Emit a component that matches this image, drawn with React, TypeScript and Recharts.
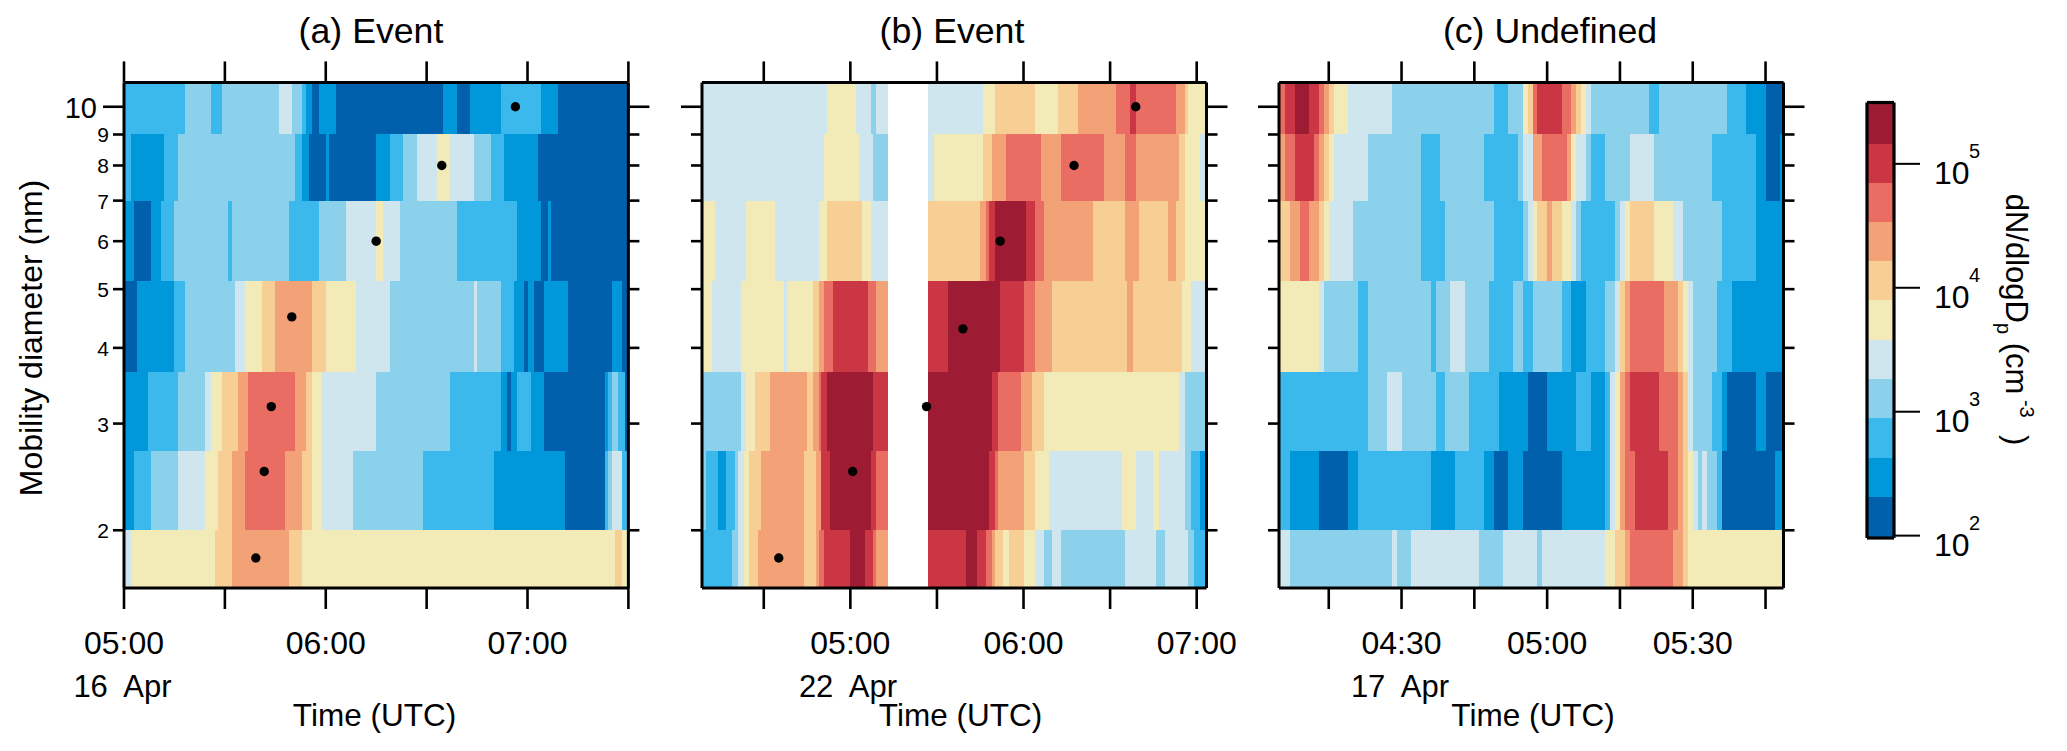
import React from "react";
import { ComposedChart, XAxis, YAxis, ReferenceArea, Scatter } from "recharts";

type Run = [number, number];

const palette = ["#0060ac", "#0098da", "#3bb8ec", "#8bd1eb", "#cfe6ee", "#f2eab7", "#f7cf94", "#f2a276", "#ea6d64", "#cb3644", "#9d1c34"];
const bandEdges = [1.606, 2, 2.7, 3.65, 5.15, 7, 9, 10.97];
const yTicks = [2, 3, 4, 5, 6, 7, 8, 9, 10];

// Runs are [start minute of day, colour level]; level -1 means no data.
const aBand0: Run[] = [[300,4],[302,5],[327,6],[332,7],[349,6],[353,5],[446,6],[448,5]];
const aBand1: Run[] = [[300,1],[303,2],[308,3],[316,4],[324,5],[328,6],[332,7],[336,8],[348,7],[353,6],[356,5],[359,4],[368,3],[389,2],[410,1],[431,0],[443,2],[444,3],[445,4],[448,2]];
const aBand2: Run[] = [[300,1],[307,2],[316,3],[324,4],[326,5],[329,6],[334,7],[337,8],[351,7],[354,6],[356,5],[359,4],[375,3],[397,2],[412,1],[414,0],[415,1],[417,2],[421,1],[425,0],[443,1],[444,2],[445,3],[447,2],[449,0]];
const aBand3: Run[] = [[300,0],[304,1],[315,2],[318,3],[333,4],[336,5],[341,6],[345,7],[356,6],[360,5],[369,4],[379,3],[404,4],[405,3],[412,2],[416,1],[419,0],[420,1],[422,0],[425,1],[432,0],[445,1],[448,0]];
const aBand4: Run[] = [[300,1],[303,0],[308,1],[311,2],[315,3],[331,2],[332,3],[349,2],[358,3],[366,4],[375,5],[377,4],[382,3],[399,2],[417,1],[424,0],[426,1],[427,0]];
const aBand5: Run[] = [[300,2],[302,1],[312,2],[316,3],[351,2],[353,1],[355,0],[360,1],[361,0],[375,1],[379,2],[383,3],[387,4],[393,5],[397,4],[404,3],[409,2],[413,1],[423,0]];
const aBand6: Run[] = [[300,2],[318,3],[326,2],[329,3],[346,4],[350,3],[353,2],[354,1],[356,0],[358,1],[363,0],[395,1],[399,0],[403,1],[412,2],[424,1],[429,0]];

const bBand0: Run[] = [[249,2],[259,3],[261,4],[263,5],[265,6],[268,7],[284,6],[288,7],[289,8],[291,9],[300,10],[305,9],[308,8],[309,7],[313,-1],[327,9],[340,10],[344,9],[347,8],[349,7],[350,6],[353,5],[355,6],[360,5],[364,4],[367,3],[370,4],[373,3],[395,4],[406,3],[409,4],[417,3],[419,2]];
const bBand1: Run[] = [[249,3],[250,2],[254,1],[257,2],[260,3],[261,4],[263,5],[265,6],[269,7],[284,6],[288,7],[290,9],[293,10],[307,9],[309,8],[313,-1],[327,10],[348,9],[350,8],[351,7],[360,6],[364,5],[369,4],[394,5],[399,4],[405,5],[407,4],[416,3],[418,2],[421,1]];
const bBand2: Run[] = [[249,3],[262,4],[264,5],[267,6],[272,7],[285,6],[287,7],[289,8],[290,9],[292,10],[308,9],[313,-1],[327,10],[349,9],[351,8],[359,7],[363,6],[367,5],[414,4],[416,3]];
const bBand3: Run[] = [[249,5],[252,4],[262,5],[277,4],[278,5],[287,6],[289,7],[291,8],[294,9],[306,8],[309,7],[313,-1],[327,9],[334,10],[352,9],[360,8],[364,7],[370,6],[396,7],[398,6],[415,5],[418,4]];
const bBand4: Run[] = [[249,5],[253,4],[264,5],[274,4],[289,5],[292,6],[304,5],[307,4],[313,-1],[327,6],[345,7],[347,8],[348,9],[350,10],[361,9],[364,8],[367,7],[384,6],[395,7],[400,6],[410,7],[413,6],[416,5]];
const bBand5: Run[] = [[249,4],[291,5],[303,4],[308,3],[313,-1],[327,4],[329,5],[346,6],[349,7],[354,8],[366,7],[373,8],[388,7],[395,8],[399,7],[414,6],[416,5],[421,4]];
const bBand6: Run[] = [[249,4],[292,5],[302,4],[307,3],[309,4],[313,-1],[327,4],[346,5],[350,6],[364,5],[372,6],[379,7],[392,8],[397,9],[399,8],[413,7],[416,6],[417,5]];

const cBand0: Run[] = [[244,4],[247,3],[268,4],[269,3],[272,4],[286,3],[291,4],[298,3],[299,4],[312,5],[314,6],[316,7],[317,8],[326,7],[328,6],[329,5]];
const cBand1: Run[] = [[244,2],[247,1],[253,0],[259,1],[261,2],[276,1],[281,2],[287,1],[289,0],[292,1],[295,0],[303,1],[312,2],[313,4],[314,5],[315,7],[316,8],[318,9],[325,8],[327,7],[328,6],[329,5],[330,4],[331,3],[332,4],[333,3],[335,2],[336,0],[347,1]];
const cBand2: Run[] = [[244,2],[263,3],[267,4],[270,3],[277,2],[279,3],[284,2],[290,1],[296,0],[300,1],[306,2],[309,1],[312,2],[313,4],[314,5],[315,7],[316,8],[317,9],[323,8],[327,7],[328,6],[329,4],[330,3],[334,2],[336,1],[337,0],[343,1],[345,0]];
const cBand3: Run[] = [[244,5],[253,4],[254,3],[261,2],[263,3],[276,2],[277,3],[280,4],[283,3],[288,2],[293,3],[295,2],[297,3],[303,2],[305,1],[308,2],[312,3],[314,4],[315,6],[316,7],[317,8],[324,7],[327,6],[328,5],[329,4],[330,3],[335,2],[338,1]];
const cBand4: Run[] = [[244,6],[247,7],[249,8],[251,7],[253,6],[254,5],[255,4],[260,3],[274,2],[279,3],[289,2],[295,3],[296,4],[297,5],[298,6],[300,7],[301,6],[303,5],[305,4],[306,3],[307,2],[314,3],[315,4],[316,5],[317,6],[322,5],[326,4],[328,3],[336,2],[343,1]];
const cBand5: Run[] = [[244,7],[246,8],[248,9],[252,8],[253,7],[254,6],[255,5],[256,4],[263,3],[274,2],[278,3],[287,2],[294,3],[295,4],[297,7],[299,8],[304,7],[305,5],[306,4],[308,3],[309,2],[312,3],[317,4],[322,3],[334,2],[343,1],[345,0],[348,1]];
const cBand6: Run[] = [[244,8],[246,9],[248,10],[251,9],[253,8],[254,7],[255,6],[256,5],[259,4],[268,3],[289,2],[292,3],[295,5],[296,6],[297,8],[298,9],[303,8],[305,7],[306,6],[307,5],[308,4],[309,3],[321,2],[323,3],[337,2],[341,1],[345,0]];

const aDots = [{ t: 416.4, d: 10 }, { t: 394.5, d: 8 }, { t: 375, d: 6 }, { t: 349.9, d: 4.5 }, { t: 343.8, d: 3.2 }, { t: 341.7, d: 2.5 }, { t: 339.2, d: 1.8 }];
const bDots = [{ t: 398.9, d: 10 }, { t: 377.5, d: 8 }, { t: 351.9, d: 6 }, { t: 339, d: 4.3 }, { t: 326.4, d: 3.2 }, { t: 300.8, d: 2.5 }, { t: 275.2, d: 1.8 }];

const aDomain = [300, 450];
const bDomain = [248.6, 423.4];
const cDomain = [244.75, 348.7];
const aTicks = [300, 330, 360, 390, 420, 450];
const bTicks = [270, 300, 330, 360, 390, 420];
const cTicks = [255, 270, 285, 300, 315, 330, 345];
const aLabels = [300, 360, 420];
const bLabels = [300, 360, 420];
const cLabels = [270, 300, 330];

const barLevels = [95.7, 204, 424, 885, 1840, 3810, 7950, 16400, 33700, 69900, 145000, 312600];
const barTicks = [100, 1000, 10000, 100000];

const FONT = "'Liberation Sans', Arial, sans-serif";
const INK = "#000";

const fmt = (m: number) => `${String(Math.floor(m / 60)).padStart(2, "0")}:${String(m % 60).padStart(2, "0")}`;

type PanelProps = {
  left: number; right: number; bands: Run[][]; dots?: { t: number; d: number }[];
  domain: number[]; ticks: number[]; labels: number[]; showY: boolean;
};

const TOP = 82.4;
const BOTTOM = 588;
const PAD = 110;

function Panel({ left, right, bands, dots, domain, ticks, labels, showY }: PanelProps) {
  const cells: React.ReactNode[] = [];
  bands.forEach((runs, bi) => {
    runs.forEach(([start, level], i) => {
      if (level < 0) return;
      const end = i + 1 < runs.length ? runs[i + 1][0] : domain[1];
      cells.push(
        <ReferenceArea key={`${bi}-${i}`} xAxisId="b" yAxisId="l" x1={Math.max(start, domain[0])} x2={end}
          y1={bandEdges[bi]} y2={bandEdges[bi + 1]} fill={palette[level]} fillOpacity={1} stroke="none"
          shapeRendering="crispEdges" ifOverflow="visible" />
      );
    });
  });
  const bottomTick = (p: any) => (
    <g>
      <line x1={p.x} x2={p.x} y1={p.y} y2={p.y + 21} stroke={INK} strokeWidth={2.6} />
      {labels.includes(p.payload.value) && (
        <text x={p.x} y={654} textAnchor="middle" fontFamily={FONT} fontSize={32} fill={INK}>{fmt(p.payload.value)}</text>
      )}
    </g>
  );
  const topTick = (p: any) => <line x1={p.x} x2={p.x} y1={p.y} y2={p.y - 21} stroke={INK} strokeWidth={2.6} />;
  const leftTick = (p: any) => {
    const v = p.payload.value;
    const big = v === 10;
    return (
      <g>
        <line x1={p.x} x2={p.x - (big ? 21 : 11)} y1={p.y} y2={p.y} stroke={INK} strokeWidth={2.6} />
        {showY && (
          <text x={big ? p.x - 27 : p.x - 15} y={p.y + (big ? 11 : 8)} textAnchor="end" fontFamily={FONT} fontSize={big ? 29 : 21} fill={INK}>{v}</text>
        )}
      </g>
    );
  };
  const rightTick = (p: any) => <line x1={p.x} x2={p.x + (p.payload.value === 10 ? 21 : 11)} y1={p.y} y2={p.y} stroke={INK} strokeWidth={2.6} />;
  const axis = { stroke: INK, strokeWidth: 3 };
  return (
    <div style={{ position: "absolute", left: left - PAD, top: 0 }}>
      <ComposedChart width={right - left + 2 * PAD} height={751} data={dots ?? []} margin={{ top: TOP - 1, bottom: 751 - BOTTOM - 1, left: PAD - 1, right: PAD - 1 }}>
        <XAxis xAxisId="b" dataKey="t" type="number" orientation="bottom" domain={domain} ticks={ticks} interval={0} height={1} allowDataOverflow tickSize={0} tickMargin={0} tickLine={false} axisLine={axis} tick={bottomTick} />
        <XAxis xAxisId="t" dataKey="t" type="number" orientation="top" domain={domain} ticks={ticks} interval={0} height={1} allowDataOverflow tickSize={0} tickMargin={0} tickLine={false} axisLine={axis} tick={topTick} />
        <YAxis yAxisId="l" dataKey="d" type="number" scale="log" orientation="left" domain={[bandEdges[0], bandEdges[7]]} ticks={yTicks} interval={0} width={1} allowDataOverflow tickSize={0} tickMargin={0} tickLine={false} axisLine={axis} tick={leftTick} />
        <YAxis yAxisId="r" dataKey="d" type="number" scale="log" orientation="right" domain={[bandEdges[0], bandEdges[7]]} ticks={yTicks} interval={0} width={1} allowDataOverflow tickSize={0} tickMargin={0} tickLine={false} axisLine={axis} tick={rightTick} />
        {cells}
        {dots && (
          <Scatter xAxisId="b" yAxisId="l" isAnimationActive={false}
            shape={(p: any) => <circle cx={p.cx} cy={p.cy} r={4.7} fill="#000" />} />
        )}
      </ComposedChart>
    </div>
  );
}

function ColorBar() {
  const axis = { stroke: INK, strokeWidth: 3.2 };
  const tick = (p: any) => {
    const e = Math.round(Math.log10(p.payload.value));
    return (
      <g>
        <line x1={p.x} x2={p.x + 26} y1={p.y} y2={p.y} stroke={INK} strokeWidth={2} />
        <text x={p.x + 40} y={p.y + 20} fontFamily={FONT} fontSize={32} fill={INK}>10</text>
        <text x={p.x + 75} y={p.y - 6} fontFamily={FONT} fontSize={20} fill={INK}>{e}</text>
      </g>
    );
  };
  const blank = () => <g />;
  return (
    <div style={{ position: "absolute", left: 1767, top: 0 }}>
      <ComposedChart width={300} height={751} data={[{ p: 0, n: 1000 }, { p: 1, n: 1000 }]} margin={{ top: 101.5, bottom: 751 - 538 - 1, left: 99, right: 172 }}>
        <XAxis xAxisId="b" dataKey="p" type="number" orientation="bottom" domain={[0, 1]} ticks={[0, 1]} height={1} allowDataOverflow tickLine={false} axisLine={axis} tick={blank} />
        <XAxis xAxisId="t" dataKey="p" type="number" orientation="top" domain={[0, 1]} ticks={[0, 1]} height={1} allowDataOverflow tickLine={false} axisLine={axis} tick={blank} />
        <YAxis yAxisId="l" dataKey="n" type="number" scale="log" orientation="left" domain={[barLevels[0], barLevels[11]]} ticks={barTicks} width={1} allowDataOverflow tickLine={false} axisLine={axis} tick={blank} />
        <YAxis yAxisId="r" dataKey="n" type="number" scale="log" orientation="right" domain={[barLevels[0], barLevels[11]]} ticks={barTicks} interval={0} width={1} allowDataOverflow tickSize={0} tickMargin={0} tickLine={false} axisLine={axis} tick={tick} />
        {palette.map((c, i) => (
          <ReferenceArea key={i} xAxisId="b" yAxisId="l" x1={0} x2={1} y1={barLevels[i]} y2={barLevels[i + 1]} fill={c} fillOpacity={1} stroke="none" shapeRendering="crispEdges" ifOverflow="visible" />
        ))}
      </ComposedChart>
    </div>
  );
}

const titleStyle = { fontFamily: FONT, fontSize: 35.7, fill: INK } as const;
const dateStyle = { fontFamily: FONT, fontSize: 31, fill: INK } as const;
const xTitle = { fontFamily: FONT, fontSize: 31.5, fill: INK } as const;

function Labels() {
  return (
    <svg width={2067} height={751} style={{ position: "absolute", left: 0, top: 0 }}>
      <text x={371} y={43} textAnchor="middle" {...titleStyle}>(a) Event</text>
      <text x={952} y={43} textAnchor="middle" {...titleStyle}>(b) Event</text>
      <text x={1550} y={43} textAnchor="middle" {...titleStyle}>(c) Undefined</text>
      <text x={122.5} y={697} textAnchor="middle" {...dateStyle} xmlSpace="preserve">16  Apr</text>
      <text x={848} y={697} textAnchor="middle" {...dateStyle} xmlSpace="preserve">22  Apr</text>
      <text x={1400} y={697} textAnchor="middle" {...dateStyle} xmlSpace="preserve">17  Apr</text>
      <text x={374.5} y={726} textAnchor="middle" {...xTitle}>Time (UTC)</text>
      <text x={960.5} y={726} textAnchor="middle" {...xTitle}>Time (UTC)</text>
      <text x={1533} y={726} textAnchor="middle" {...xTitle}>Time (UTC)</text>
      <text transform="translate(42 338) rotate(-90)" textAnchor="middle" fontFamily={FONT} fontSize={32} fill={INK}>Mobility diameter (nm)</text>
      <text transform="translate(2006 319.5) rotate(90)" textAnchor="middle" fontFamily={FONT} fontSize={31} fill={INK} xmlSpace="preserve">
        dN/dlogD<tspan dy={9} fontSize={20}>p</tspan><tspan dy={-9}> (cm</tspan><tspan dy={-14} fontSize={20}> -3</tspan><tspan dy={14}>  )</tspan>
      </text>
    </svg>
  );
}

export default function App() {
  return (
    <div style={{ position: "absolute", left: 0, top: 0, width: 2067, height: 751, background: "#fff", overflow: "hidden" }}>
      <Panel left={124.1} right={628.5} bands={[aBand0, aBand1, aBand2, aBand3, aBand4, aBand5, aBand6]} dots={aDots} domain={aDomain} ticks={aTicks} labels={aLabels} showY />
      <Panel left={701.5} right={1206} bands={[bBand0, bBand1, bBand2, bBand3, bBand4, bBand5, bBand6]} dots={bDots} domain={bDomain} ticks={bTicks} labels={bLabels} showY={false} />
      <Panel left={1278.5} right={1783} bands={[cBand0, cBand1, cBand2, cBand3, cBand4, cBand5, cBand6]} domain={cDomain} ticks={cTicks} labels={cLabels} showY={false} />
      <ColorBar />
      <Labels />
    </div>
  );
}
